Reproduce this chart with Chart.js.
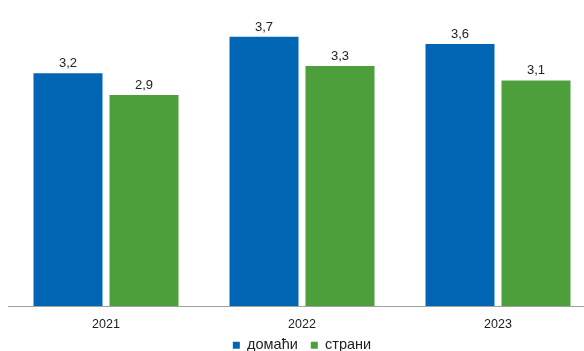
<!DOCTYPE html>
<html lang="sr">
<head>
<meta charset="UTF-8">
<title>domaći / strani</title>
<script src="https://cdn.jsdelivr.net/npm/chart.js"></script>
<style>
    html, body { margin: 0; padding: 0; background: #fff; overflow: hidden; }
    #wrap { width: 596px; height: 351px; }
</style>
</head>
<body>
<div id="wrap"><canvas id="chart"></canvas></div>
<script>
const years = ['2021', '2022', '2023'];
const domaci = [3.2, 3.7, 3.6];
const strani = [2.9, 3.3, 3.1];
const seriesNames = ['домаћи', 'страни'];

// value labels above bars, with decimal comma
const valueLabels = {
    id: 'valueLabels',
    afterLayout(chart) {
        // the x axis band is kept short; let its labels spill below it without clipping
        chart.scales.x.bottom += 12;
    },
    afterDatasetsDraw(chart) {
        const ctx = chart.ctx;
        ctx.save();
        ctx.font = '13px "Liberation Sans", Arial, sans-serif';
        ctx.fillStyle = '#222';
        ctx.textAlign = 'center';
        ctx.textBaseline = 'alphabetic';
        chart.data.datasets.forEach((ds, i) => {
            chart.getDatasetMeta(i).data.forEach((bar, j) => {
                ctx.fillText(ds.data[j].toFixed(1).replace('.', ','), bar.x, bar.y - 6);
            });
        });
        ctx.restore();
    }
};

new Chart(document.getElementById('chart'), {
    type: 'bar',
    data: {
        labels: years,
        datasets: [
            { label: seriesNames[0], data: domaci, backgroundColor: '#0066b3' },
            { label: seriesNames[1], data: strani, backgroundColor: '#4c9f3a' }
        ]
    },
    options: {
        responsive: true,
        maintainAspectRatio: false,
        animation: false,
        categoryPercentage: 0.7755,
        barPercentage: 0.908,
        layout: { padding: { left: 8, right: 0, top: 15, bottom: 0 } },
        scales: {
            x: {
                grid: { display: false, drawTicks: false },
                border: { color: '#a0a0a0', width: 1 },
                ticks: {
                    color: '#222',
                    font: { family: '"Liberation Sans", Arial', size: 12.5 },
                    padding: 11
                },
                afterFit(scale) { scale.height = 19; }
            },
            y: {
                display: false,
                min: 0,
                max: 4
            }
        },
        plugins: {
            legend: {
                position: 'bottom',
                maxHeight: 26,
                labels: {
                    boxWidth: 7,
                    boxHeight: 7,
                    padding: 13,
                    color: '#222',
                    font: { family: '"Liberation Sans", Arial', size: 14.5 }
                }
            },
            tooltip: { enabled: false }
        }
    },
    plugins: [valueLabels]
});
</script>
</body>
</html>
